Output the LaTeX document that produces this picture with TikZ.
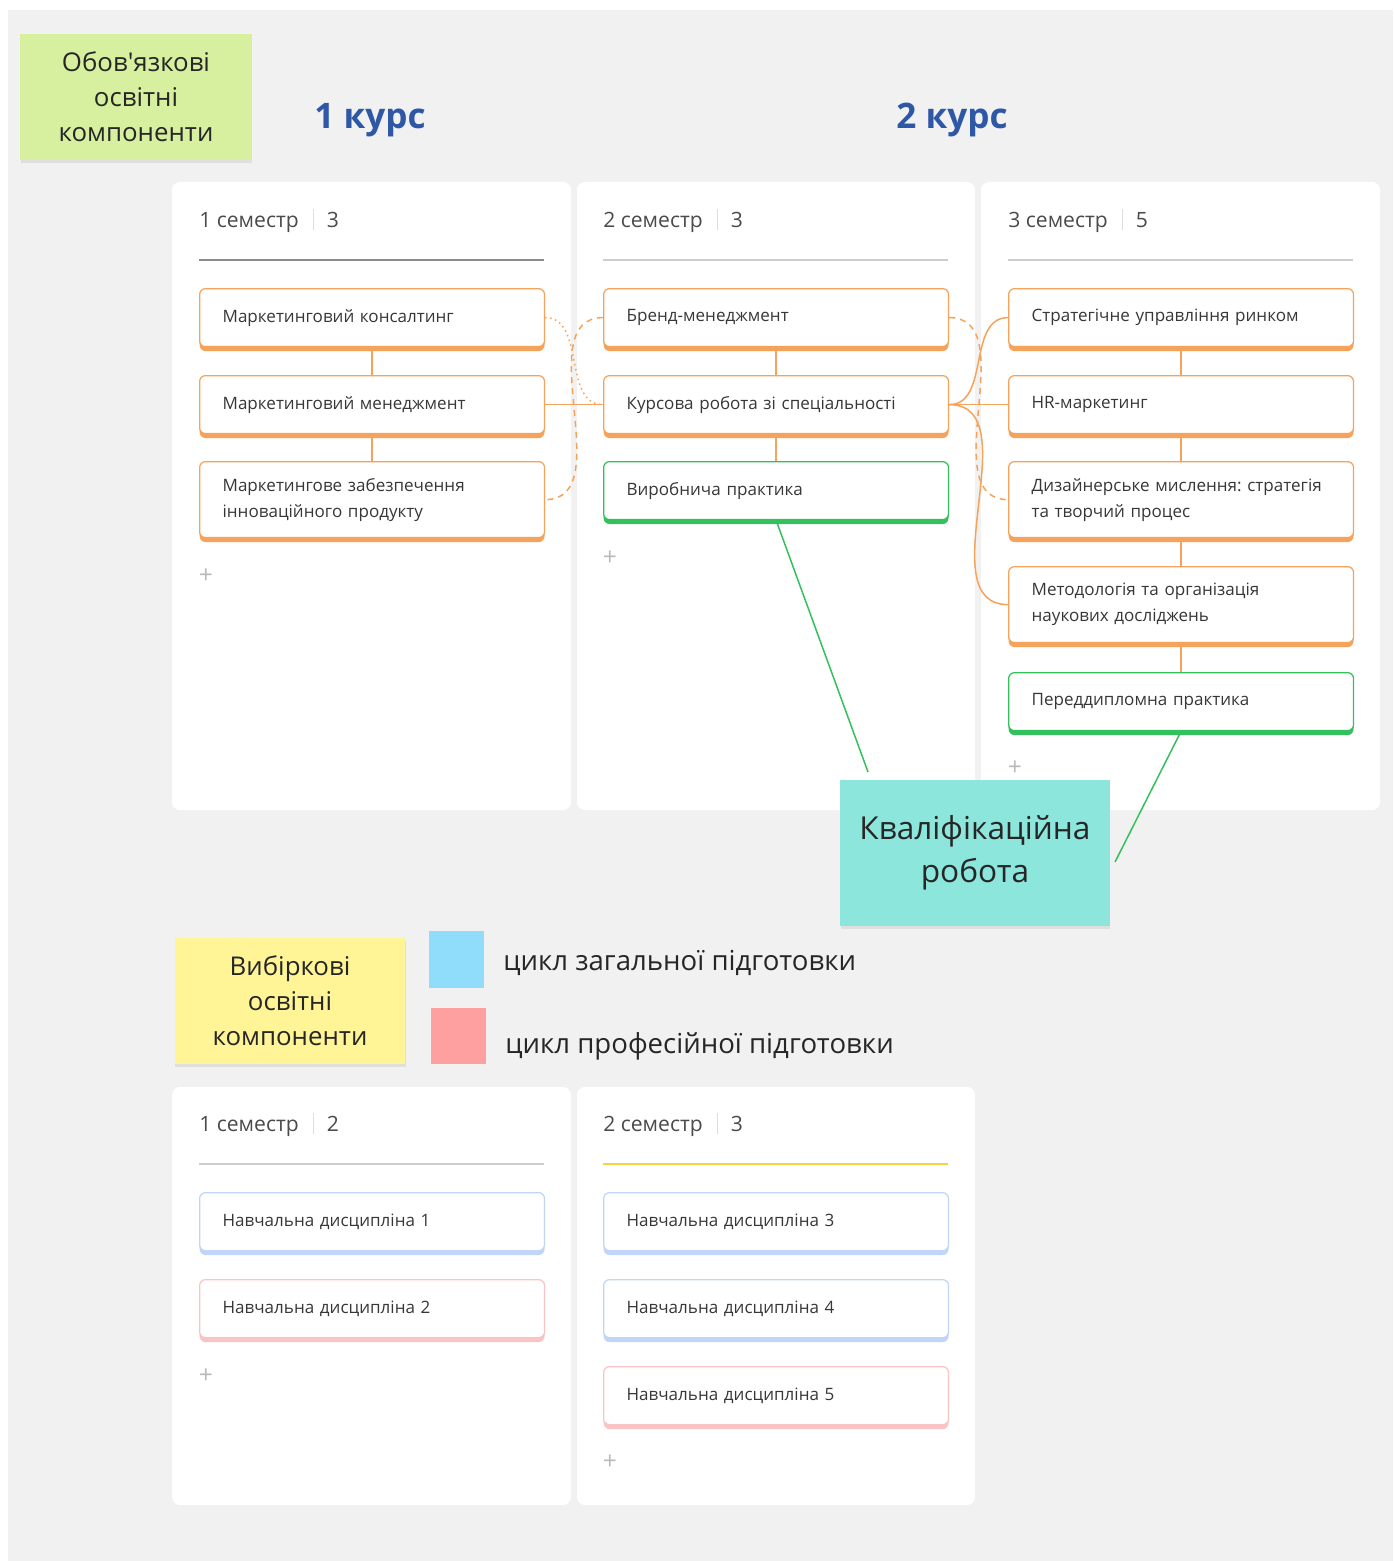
\documentclass[tikz,border=0pt]{standalone}
\usepackage{fontspec}
\setmainfont{Open Sans}[Ligatures=TeXOff]
\usepackage{tikz}
\usetikzlibrary{calc, shadows}
\frenchspacing
\definecolor{boardgray}  {RGB}{241,241,241}
\definecolor{notegreen}  {RGB}{214,240,160}
\definecolor{noteyellow} {RGB}{255,244,150}
\definecolor{noteteal}   {RGB}{140,230,220}
\definecolor{kursblue}   {RGB}{46,88,166}
\definecolor{cardorange} {RGB}{245,163,90}
\definecolor{cardgreen}  {RGB}{52,192,92}
\definecolor{cardblue}   {RGB}{193,214,246}
\definecolor{cardpink}   {RGB}{250,196,196}
\definecolor{legendblue} {RGB}{143,221,250}
\definecolor{legendpink} {RGB}{255,160,160}
\definecolor{textgray}   {RGB}{55,55,55}
\definecolor{linegray}   {RGB}{205,205,205}
\definecolor{sepgray}    {RGB}{222,222,222}
\definecolor{linedark}   {RGB}{140,140,140}
\definecolor{lineyellow} {RGB}{245,212,70}
\definecolor{plusgray}   {RGB}{185,185,185}

\newcommand{\semsep}{\hspace{0.28cm}\textcolor{sepgray}{\rule[-0.06cm]{0.02cm}{0.42cm}}\hspace{0.26cm}}

\tikzset{
	card/.style={draw=#1, line width=0.025cm, fill=white, rounded corners=0.12cm, anchor=north west,
		text width=5.98cm, inner xsep=0.46cm, inner ysep=0pt, align=left, minimum height=1.16cm,
		text=textgray, font=\fontsize{9.7}{14.8}\selectfont,
		drop shadow={shadow xshift=0cm, shadow yshift=-0.09cm, fill=#1, opacity=1}},
	tallcard/.style={card=#1, minimum height=1.52cm},
	sticky/.style={fill=#1, align=center, text=black!85, font=\fontsize{14.7}{20}\selectfont,
		drop shadow={shadow xshift=0.01cm, shadow yshift=-0.06cm, fill=black, opacity=0.07}},
	panel/.style={fill=white, rounded corners=0.16cm},
	semhead/.style={anchor=west, text=textgray!90, font=\fontsize{12}{14}\selectfont, inner sep=0pt},
	kurs/.style={text=kursblue, font=\fontsize{20}{24}\selectfont\bfseries},
	plus/.style={text=plusgray, font=\fontsize{14}{14}\selectfont},
	link/.style={draw=cardorange, line width=0.03cm},
	greenlink/.style={draw=cardgreen, line width=0.03cm},
	legend/.style={anchor=west, text=black!85, font=\fontsize{15.7}{18}\selectfont, inner sep=0pt}
}

\begin{document}
\begin{tikzpicture}[x=0.02cm, y=-0.02cm]
	\useasboundingbox (0,0) rectangle (1393,1561);
	\fill[white] (0,0) rectangle (1393,1561);
	\fill[boardgray] (8,10) rectangle (1393,1561);

	\fill[panel] (172,182) rectangle (571,810);
	\fill[panel] (577,182) rectangle (975,810);
	\fill[panel] (981,182) rectangle (1380,810);
	\fill[panel] (172,1087) rectangle (571,1505);
	\fill[panel] (577,1087) rectangle (975,1505);

	\node[sticky=notegreen, minimum width=4.64cm, minimum height=2.52cm] (obov) at (136,97) {Обов'язкові\\освітні\\компоненти};
	\node[kurs] (kurs1) at (370,120) {1 курс};
	\node[kurs] (kurs2) at (952,120) {2 курс};

	\node[semhead] (sem1) at (199,221) {1 семестр\semsep 3};
	\node[semhead] (sem2) at (603,221) {2 семестр\semsep 3};
	\node[semhead] (sem3) at (1008,221) {3 семестр\semsep 5};
	\draw[linedark, line width=0.04cm] (199,260) -- (544,260);
	\draw[linegray, line width=0.04cm] (603,260) -- (948,260);
	\draw[linegray, line width=0.04cm] (1008,260) -- (1353,260);

	\node[card=cardorange] (mk) at (199,288) {Маркетинговий консалтинг};
	\node[card=cardorange] (mm) at (199,375) {Маркетинговий менеджмент};
	\node[tallcard=cardorange] (mz) at (199,461) {Маркетингове забезпечення\\інноваційного продукту};
	\node[plus] (plus1) at (206,576) {+};

	\node[card=cardorange] (bm) at (603,288) {Бренд-менеджмент};
	\node[card=cardorange] (kr) at (603,375) {Курсова робота зі спеціальності};
	\node[card=cardgreen] (vp) at (603,461) {Виробнича практика};
	\node[plus] (plus2) at (610,558) {+};

	\node[card=cardorange] (su) at (1008,288) {Стратегічне управління ринком};
	\node[card=cardorange] (hr) at (1008,375) {HR-маркетинг};
	\node[tallcard=cardorange] (dm) at (1008,461) {Дизайнерське мислення: стратегія\\та творчий процес};
	\node[tallcard=cardorange] (mo) at (1008,566) {Методологія та організація\\наукових досліджень};
	\node[card=cardgreen] (pd) at (1008,672) {Переддипломна практика};
	\node[plus] (plus3) at (1015,768) {+};

	\draw[link] (mk) -- (mm);
	\draw[link] (mm) -- (mz);
	\draw[link] (bm) -- (kr);
	\draw[link] (kr) -- (vp);
	\draw[link] (su) -- (hr);
	\draw[link] (hr) -- (dm);
	\draw[link] (dm) -- (mo);
	\draw[link] (mo) -- (pd);

	\draw[link] (mm.east) -- (kr.west);
	\draw[link, dotted] (mk.east) to[out=0, in=180] (kr.west);
	\draw[link, dash pattern=on 0.12cm off 0.1cm] (bm.west) to[out=180, in=0] (mz.east);
	\draw[link] (kr.east) to[out=0, in=180] (su.west);
	\draw[link] (kr.east) -- (hr.west);
	\draw[link] (kr.east) to[out=0, in=180] (mo.west);
	\draw[link, dash pattern=on 0.12cm off 0.1cm] (bm.east) to[out=0, in=180] (dm.west);

	\coordinate (kvtop) at (868,772);
	\coordinate (kvright) at (1115,862);
	\draw[greenlink] (vp.south) -- (kvtop);
	\draw[greenlink] (pd.south) -- (kvright);
	\node[sticky=noteteal, minimum width=5.4cm, minimum height=2.94cm, font=\fontsize{18}{24.5}\selectfont] (kval) at (975,853) {Кваліфікаційна\\робота};

	\node[sticky=noteyellow, minimum width=4.62cm, minimum height=2.52cm] (vyb) at (290,1001) {Вибіркові\\освітні\\компоненти};
	\node[fill=legendblue, minimum width=1.1cm, minimum height=1.14cm] (lblue) at (456,959) {};
	\node[fill=legendpink, minimum width=1.1cm, minimum height=1.12cm] (lpink) at (458,1036) {};
	\node[legend] (lgen) at (503,963) {цикл загальної підготовки};
	\node[legend] (lprof) at (505,1046) {цикл професійної підготовки};

	\node[semhead] (sem4) at (199,1125) {1 семестр\semsep 2};
	\node[semhead] (sem5) at (603,1125) {2 семестр\semsep 3};
	\draw[linegray, line width=0.04cm] (199,1164) -- (544,1164);
	\draw[lineyellow, line width=0.04cm] (603,1164) -- (948,1164);

	\node[card=cardblue] (nd1) at (199,1192) {Навчальна дисципліна 1};
	\node[card=cardpink] (nd2) at (199,1279) {Навчальна дисципліна 2};
	\node[plus] (plus4) at (206,1376) {+};
	\node[card=cardblue] (nd3) at (603,1192) {Навчальна дисципліна 3};
	\node[card=cardblue] (nd4) at (603,1279) {Навчальна дисципліна 4};
	\node[card=cardpink] (nd5) at (603,1366) {Навчальна дисципліна 5};
	\node[plus] (plus5) at (610,1462) {+};
\end{tikzpicture}
\end{document}
